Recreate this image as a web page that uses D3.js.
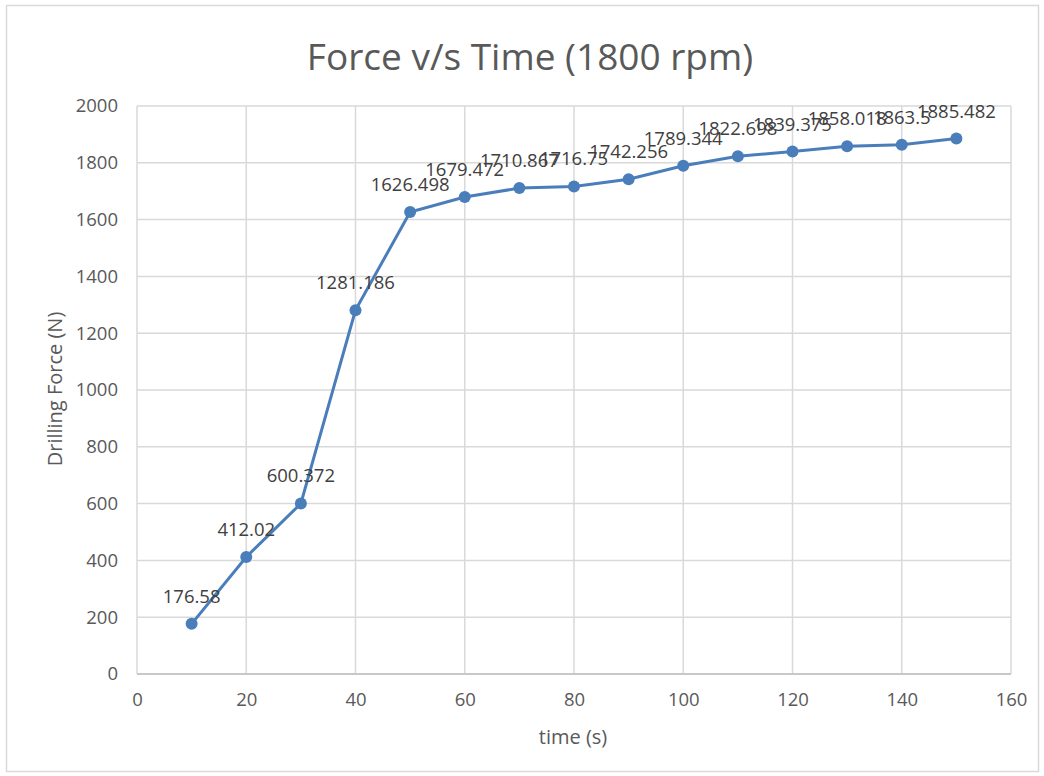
<!DOCTYPE html>
<html>
<head>
<meta charset="utf-8">
<script src="https://cdn.jsdelivr.net/npm/d3@7/dist/d3.min.js"></script>
<style>
  body { margin: 0; background: #fff; }
  text { font-family: "Open Sans", "Noto Sans", sans-serif; }
</style>
</head>
<body>
<svg id="chart" width="1044" height="776"></svg>
<script>
// Drilling force measured over time at 1800 rpm
const times = [10, 20, 30, 40, 50, 60, 70, 80, 90, 100, 110, 120, 130, 140, 150];
const forces = [176.58, 412.02, 600.372, 1281.186, 1626.498, 1679.472, 1710.867, 1716.75,
                1742.256, 1789.344, 1822.698, 1839.375, 1858.018, 1863.5, 1885.482];
const xTicks = [0, 20, 40, 60, 80, 100, 120, 140, 160];
const yTicks = [0, 200, 400, 600, 800, 1000, 1200, 1400, 1600, 1800, 2000];

const svg = d3.select("#chart");
const W = 1044, H = 776;
const plot = { left: 137, right: 1011, top: 106, bottom: 674 };

// outer frame
svg.append("rect").attr("x", 6.5).attr("y", 5.5).attr("width", W - 12).attr("height", H - 10)
  .attr("fill", "#fff").attr("stroke", "#d9d9d9").attr("stroke-width", 1.5);

const x = d3.scaleLinear().domain([0, 160]).range([plot.left, plot.right]);
const y = d3.scaleLinear().domain([0, 2000]).range([plot.bottom, plot.top]);

// gridlines
const grid = svg.append("g");
grid.selectAll(".gx").data(xTicks).join("line")
  .attr("x1", d => x(d)).attr("x2", d => x(d))
  .attr("y1", plot.top).attr("y2", plot.bottom)
  .attr("stroke", "#d9d9d9").attr("stroke-width", 1.5);
grid.selectAll(".gy").data(yTicks).join("line")
  .attr("x1", plot.left).attr("x2", plot.right)
  .attr("y1", d => y(d)).attr("y2", d => y(d))
  .attr("stroke", "#d9d9d9").attr("stroke-width", 1.5);

// axis baseline
svg.append("line").attr("x1", plot.left).attr("x2", plot.right)
  .attr("y1", y(0)).attr("y2", y(0)).attr("stroke", "#bfbfbf").attr("stroke-width", 1.5);

// axes (labels only)
const xAxis = svg.append("g").attr("transform", `translate(0,${plot.bottom})`)
  .call(d3.axisBottom(x).tickValues(xTicks).tickFormat(d3.format("d")).tickSize(0).tickPadding(19));
const yAxis = svg.append("g").attr("transform", `translate(${plot.left},0)`)
  .call(d3.axisLeft(y).tickValues(yTicks).tickFormat(d3.format("d")).tickSize(0).tickPadding(19));
[xAxis, yAxis].forEach(a => {
  a.select(".domain").remove();
  a.selectAll("text").attr("font-size", 18.5).attr("fill", "#595959")
    .attr("font-family", "'Open Sans', sans-serif");
});

// title and axis titles
svg.append("text").attr("x", 530).attr("y", 70).attr("text-anchor", "middle")
  .attr("font-size", 37).attr("fill", "#595959").text("Force v/s Time (1800 rpm)");
svg.append("text").attr("x", 573).attr("y", 744).attr("text-anchor", "middle")
  .attr("font-size", 20).attr("fill", "#595959").text("time (s)");
svg.append("text").attr("transform", "translate(62,389) rotate(-90)").attr("text-anchor", "middle")
  .attr("font-size", 20).attr("fill", "#595959").text("Drilling Force (N)");

// series
const pts = times.map((t, i) => ({ t, f: forces[i] }));
svg.append("path").datum(pts)
  .attr("fill", "none").attr("stroke", "#4a7ebb").attr("stroke-width", 3)
  .attr("d", d3.line().x(d => x(d.t)).y(d => y(d.f)));
svg.selectAll(".pt").data(pts).join("circle")
  .attr("cx", d => x(d.t)).attr("cy", d => y(d.f)).attr("r", 6)
  .attr("fill", "#4a7ebb");

// data labels
svg.selectAll(".lbl").data(pts).join("text")
  .attr("x", d => x(d.t)).attr("y", d => y(d.f) - 21)
  .attr("text-anchor", "middle").attr("font-size", 18.5).attr("fill", "#404040")
  .text(d => String(d.f));
</script>
</body>
</html>
